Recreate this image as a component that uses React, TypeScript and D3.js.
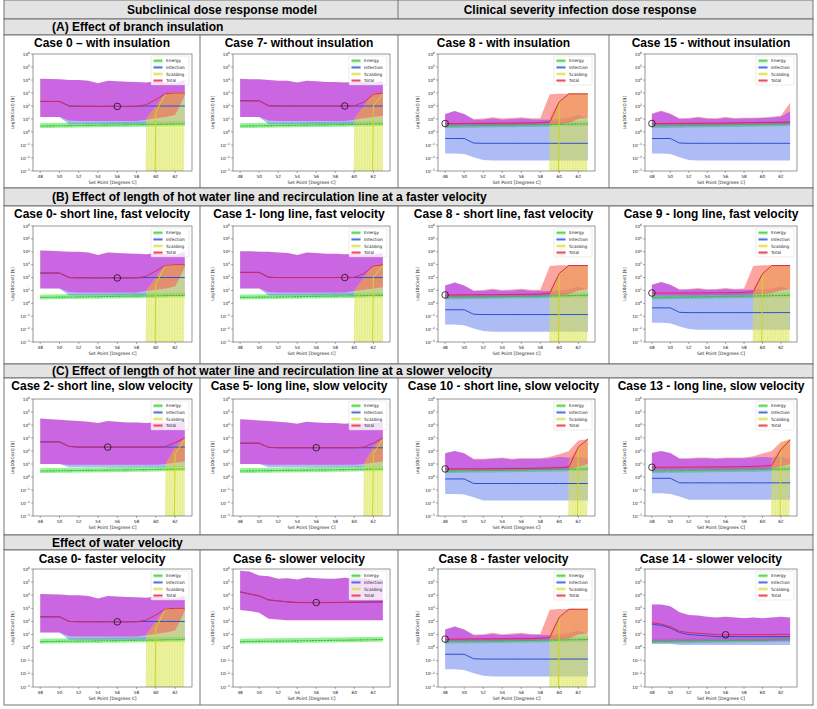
import React from 'react';
import * as d3 from 'd3';

// ---------- DATA (log10 exponents of cost in $) ----------
const N = -60; // effectively zero cost
const SET_POINTS = [48, 49, 50, 51, 52, 53, 54, 55, 56, 57, 58, 59, 60, 61, 62, 63];
const X_TICKS = [48, 50, 52, 54, 56, 58, 60, 62];
const Y_TICK_EXPONENTS = [-3, -2, -1, 0, 1, 2, 3, 4, 5, 6];
const LEGEND_LABELS = ['Energy', 'Infection', 'Scalding', 'Total'];

const energyMid = [0.46, 0.47, 0.48, 0.49, 0.5, 0.51, 0.52, 0.53, 0.54, 0.55, 0.56, 0.57, 0.58, 0.6, 0.61, 0.62];
const energyLo = [0.3, 0.31, 0.32, 0.33, 0.34, 0.35, 0.36, 0.37, 0.38, 0.39, 0.4, 0.41, 0.42, 0.44, 0.45, 0.46];
const energyHi = [0.68, 0.69, 0.7, 0.71, 0.72, 0.73, 0.74, 0.75, 0.76, 0.77, 0.78, 0.79, 0.8, 0.81, 0.82, 0.83];
const noScalding = [N, N, N, N, N, N, N, N, N, N, N, N, N, N, N, N];

// Case 0 (subclinical)
const c0TotMid = [2.35, 2.35, 2.35, 2.0, 1.98, 1.98, 1.97, 1.98, 1.97, 1.97, 1.98, 2.1, 2.5, 2.95, 3.0, 3.0];
const c0TotLo = [1.15, 1.15, 1.15, 0.88, 0.85, 0.85, 0.85, 0.85, 0.85, 0.85, 0.85, 0.95, 1.05, 1.15, 1.3, 2.8];
const c0TotHi = [4.1, 4.08, 4.05, 4.0, 4.0, 3.95, 3.75, 3.95, 3.9, 3.87, 3.85, 3.8, 3.9, 3.8, 3.75, 4.0];
const c0InfMid = [2.35, 2.35, 2.35, 2.0, 1.98, 1.98, 1.97, 1.98, 1.97, 1.97, 1.98, 2.0, 2.0, 2.0, 2.0, 2.0];
const c0InfLo = [1.15, 1.15, 1.15, 0.6, 0.6, 0.6, 0.6, 0.6, 0.6, 0.6, 0.6, 0.6, 0.6, 0.6, 0.6, 0.6];
const c0InfHi = [4.1, 4.08, 4.05, 4.0, 4.0, 3.95, 3.75, 3.95, 3.9, 3.87, 3.85, 3.8, 3.9, 3.8, 3.75, 4.0];
const c0ScalMid = [N, N, N, N, N, N, N, N, N, N, N, N, 1.5, 2.95, 3.0, 3.0];
const c0ScalLo = [N, N, N, N, N, N, N, N, N, N, N, N, N, N, N, 2.9];
const c0ScalHi = [N, N, N, N, N, N, N, N, N, N, N, 1.0, 2.0, 3.0, 3.0, 3.0];

// Case 7 (subclinical)
const c7TotMid = [2.4, 2.4, 2.4, 2.02, 2.0, 2.0, 2.0, 2.0, 2.0, 2.0, 2.0, 2.0, 2.02, 2.3, 2.9, 3.0];
const c7TotLo = [1.15, 1.15, 1.15, 0.88, 0.85, 0.85, 0.85, 0.85, 0.85, 0.85, 0.85, 0.85, 0.95, 1.05, 1.15, 1.25];
const c7TotHi = [4.1, 4.05, 4.05, 4.0, 3.95, 3.95, 3.8, 3.95, 3.9, 3.85, 3.85, 3.8, 3.85, 3.85, 3.8, 3.9];
const c7InfMid = [2.4, 2.4, 2.4, 2.02, 2.0, 2.0, 2.0, 2.0, 2.0, 2.0, 2.0, 2.0, 2.0, 2.0, 2.0, 2.0];
const c7InfLo = [1.15, 1.15, 1.15, 0.6, 0.6, 0.6, 0.6, 0.6, 0.6, 0.6, 0.6, 0.6, 0.6, 0.6, 0.6, 0.6];
const c7InfHi = [4.1, 4.05, 4.05, 4.0, 3.95, 3.95, 3.8, 3.95, 3.9, 3.85, 3.85, 3.8, 3.85, 3.85, 3.8, 3.9];
const c7ScalMid = [N, N, N, N, N, N, N, N, N, N, N, N, N, N, 2.0, 2.95];
const c7ScalHi = [N, N, N, N, N, N, N, N, N, N, N, N, 1.0, 2.0, 3.0, 3.0];

// Case 1 (subclinical)
const c1TotMid = [2.4, 2.4, 2.4, 2.02, 2.0, 2.0, 2.0, 2.0, 2.0, 2.0, 2.0, 2.0, 2.02, 2.3, 2.9, 3.0];
const c1TotLo = [1.15, 1.15, 1.15, 0.88, 0.85, 0.85, 0.85, 0.85, 0.85, 0.85, 0.85, 0.85, 0.95, 1.05, 1.15, 1.25];
const c1TotHi = [4.05, 4.05, 4.0, 4.0, 3.95, 3.9, 3.75, 3.95, 3.9, 3.85, 3.85, 3.8, 3.85, 3.8, 3.8, 3.9];
const c1InfMid = [2.4, 2.4, 2.4, 2.02, 2.0, 2.0, 2.0, 2.0, 2.0, 2.0, 2.0, 2.0, 2.0, 2.0, 2.0, 2.0];
const c1InfLo = [1.15, 1.15, 1.15, 0.6, 0.6, 0.6, 0.6, 0.6, 0.6, 0.6, 0.6, 0.6, 0.6, 0.6, 0.6, 0.6];
const c1InfHi = [4.05, 4.05, 4.0, 4.0, 3.95, 3.9, 3.75, 3.95, 3.9, 3.85, 3.85, 3.8, 3.85, 3.8, 3.8, 3.9];

// Case 2 (subclinical)
const c2TotMid = [2.7, 2.7, 2.7, 2.35, 2.3, 2.3, 2.3, 2.3, 2.3, 2.3, 2.3, 2.3, 2.3, 2.35, 2.65, 3.0];
const c2TotLo = [1.0, 1.0, 1.0, 0.95, 0.95, 0.95, 0.95, 0.95, 0.95, 0.95, 0.95, 0.95, 0.95, 1.0, 1.1, 1.2];
const c2TotHi = [4.5, 4.45, 4.4, 4.35, 4.3, 4.25, 4.15, 4.3, 4.25, 4.2, 4.2, 4.15, 4.2, 4.15, 4.2, 4.3];
const c2InfMid = [2.7, 2.7, 2.7, 2.35, 2.3, 2.3, 2.3, 2.3, 2.3, 2.3, 2.3, 2.3, 2.3, 2.3, 2.3, 2.3];
const c2InfLo = [1.0, 1.0, 1.0, 0.75, 0.75, 0.75, 0.75, 0.75, 0.75, 0.75, 0.75, 0.75, 0.75, 0.75, 0.75, 0.75];
const c2InfHi = [4.5, 4.45, 4.4, 4.35, 4.3, 4.25, 4.15, 4.3, 4.25, 4.2, 4.2, 4.15, 4.2, 4.15, 4.2, 4.3];
const c2ScalMid = [N, N, N, N, N, N, N, N, N, N, N, N, N, N, 1.8, 2.9];
const c2ScalHi = [N, N, N, N, N, N, N, N, N, N, N, N, N, 1.0, 2.3, 3.0];

// Case 5 (subclinical)
const c5TotMid = [2.6, 2.6, 2.6, 2.28, 2.25, 2.25, 2.25, 2.25, 2.25, 2.25, 2.25, 2.25, 2.25, 2.3, 2.6, 3.0];
const c5TotLo = [1.0, 1.0, 1.0, 0.95, 0.95, 0.95, 0.95, 0.95, 0.95, 0.95, 0.95, 0.95, 0.95, 1.0, 1.1, 1.2];
const c5TotHi = [4.45, 4.4, 4.35, 4.3, 4.25, 4.2, 4.1, 4.25, 4.2, 4.15, 4.15, 4.1, 4.15, 4.1, 4.15, 4.25];
const c5InfMid = [2.6, 2.6, 2.6, 2.28, 2.25, 2.25, 2.25, 2.25, 2.25, 2.25, 2.25, 2.25, 2.25, 2.25, 2.25, 2.25];
const c5InfLo = [1.0, 1.0, 1.0, 0.75, 0.75, 0.75, 0.75, 0.75, 0.75, 0.75, 0.75, 0.75, 0.75, 0.75, 0.75, 0.75];
const c5InfHi = [4.45, 4.4, 4.35, 4.3, 4.25, 4.2, 4.1, 4.25, 4.2, 4.15, 4.15, 4.1, 4.15, 4.1, 4.15, 4.25];

// Case 6 (subclinical)
const c6TotMid = [4.26, 4.1, 3.95, 3.65, 3.57, 3.5, 3.45, 3.45, 3.44, 3.45, 3.45, 3.46, 3.47, 3.48, 3.49, 3.5];
const c6TotLo = [2.88, 2.8, 2.67, 2.2, 2.15, 2.1, 2.1, 2.1, 2.1, 2.1, 2.1, 2.1, 2.1, 2.1, 2.1, 2.1];
const c6TotHi = [5.87, 5.8, 5.5, 5.45, 5.25, 5.3, 5.2, 5.35, 5.3, 5.25, 5.25, 5.33, 5.25, 5.3, 5.2, 5.25];
const c6InfMid = [4.25, 4.09, 3.94, 3.64, 3.56, 3.49, 3.44, 3.44, 3.43, 3.44, 3.44, 3.45, 3.46, 3.47, 3.48, 3.49];
const c6InfLo = [2.88, 2.8, 2.67, 2.2, 2.15, 2.1, 2.1, 2.1, 2.1, 2.1, 2.1, 2.1, 2.1, 2.1, 2.1, 2.1];
const c6InfHi = [5.87, 5.8, 5.5, 5.45, 5.25, 5.3, 5.2, 5.35, 5.3, 5.25, 5.25, 5.33, 5.25, 5.3, 5.2, 5.25];

// Case 8 (clinical)
const c8TotMid = [0.65, 0.65, 0.66, 0.66, 0.67, 0.67, 0.68, 0.68, 0.69, 0.7, 0.72, 0.78, 2.33, 2.93, 2.93, 2.93];
const c8TotLo = [0.5, 0.5, 0.5, 0.5, 0.5, 0.5, 0.52, 0.52, 0.53, 0.53, 0.55, 0.6, 0.6, 0.7, 1.0, 1.1];
const c8TotHi = [1.38, 1.62, 1.38, 1.0, 1.03, 1.13, 1.03, 1.08, 1.13, 1.05, 1.05, 2.9, 2.95, 2.95, 2.95, 2.95];
const c8InfMid = [-0.5, -0.5, -0.5, -0.85, -0.87, -0.87, -0.87, -0.87, -0.87, -0.87, -0.87, -0.87, -0.87, -0.87, -0.87, -0.87];
const c8InfLo = [-1.65, -1.65, -1.7, -1.95, -2.15, -2.2, -2.2, -2.2, -2.2, -2.2, -2.2, -2.2, -2.2, -2.2, -2.2, -2.2];
const c8InfHi = [1.38, 1.62, 1.38, 0.95, 0.97, 1.05, 0.97, 1.0, 1.05, 0.98, 0.97, 0.97, 1.0, 1.1, 1.3, 1.05];
const c8ScalMid = [N, N, N, N, N, N, N, N, N, N, N, N, 2.3, 2.93, 2.93, 2.93];
const c8ScalLo = [N, N, N, N, N, N, N, N, N, N, N, N, N, N, N, 2.0];
const c8ScalHi = [N, N, N, N, N, N, N, N, N, N, N, 1.2, 2.4, 2.95, 2.95, 2.95];

// Case 15 (clinical)
const c15TotMid = [0.65, 0.65, 0.66, 0.66, 0.67, 0.67, 0.68, 0.68, 0.69, 0.7, 0.71, 0.72, 0.73, 0.74, 0.75, 0.77];
const c15TotLo = [0.5, 0.5, 0.5, 0.5, 0.5, 0.5, 0.52, 0.52, 0.53, 0.53, 0.55, 0.55, 0.56, 0.57, 0.58, 0.6];
const c15TotHi = [1.42, 1.65, 1.42, 1.05, 1.08, 1.18, 1.08, 1.06, 1.15, 1.08, 1.1, 1.1, 1.12, 1.18, 1.25, 2.25];
const c15InfHi = [1.38, 1.6, 1.38, 1.0, 1.02, 1.12, 1.02, 1.0, 1.1, 1.02, 1.05, 1.05, 1.07, 1.12, 1.2, 1.6];

// Case 9 (clinical)
const c9TotMid = [0.8, 0.8, 0.8, 0.8, 0.8, 0.81, 0.81, 0.82, 0.82, 0.83, 0.85, 0.9, 2.3, 2.93, 2.93, 2.93];
const c9TotLo = [0.6, 0.6, 0.6, 0.6, 0.6, 0.6, 0.62, 0.62, 0.63, 0.63, 0.65, 0.7, 0.7, 0.8, 1.0, 1.1];
const c9TotHi = [1.45, 1.65, 1.45, 1.1, 1.12, 1.18, 1.1, 1.12, 1.18, 1.12, 1.15, 2.9, 2.95, 2.95, 2.95, 2.95];
const c9InfMid = [-0.35, -0.35, -0.35, -0.7, -0.72, -0.72, -0.72, -0.72, -0.72, -0.72, -0.72, -0.72, -0.72, -0.72, -0.72, -0.72];
const c9InfLo = [-1.5, -1.5, -1.55, -1.8, -2.0, -2.05, -2.05, -2.05, -2.05, -2.05, -2.05, -2.05, -2.05, -2.05, -2.05, -2.05];
const c9InfHi = [1.45, 1.65, 1.45, 1.05, 1.07, 1.12, 1.05, 1.07, 1.12, 1.07, 1.08, 1.08, 1.1, 1.15, 1.3, 1.1];

// Case 10 (clinical)
const c10TotMid = [0.62, 0.62, 0.63, 0.63, 0.63, 0.64, 0.64, 0.65, 0.65, 0.66, 0.67, 0.7, 0.72, 0.77, 2.3, 2.92];
const c10TotLo = [0.5, 0.5, 0.5, 0.5, 0.5, 0.5, 0.5, 0.52, 0.52, 0.53, 0.53, 0.55, 0.55, 0.6, 0.8, 1.0];
const c10TotHi = [1.82, 2.0, 1.82, 1.4, 1.4, 1.45, 1.5, 1.4, 1.45, 1.45, 1.45, 1.55, 1.75, 2.0, 2.8, 2.9];
const c10InfMid = [-0.15, -0.15, -0.15, -0.5, -0.5, -0.5, -0.5, -0.5, -0.5, -0.5, -0.5, -0.5, -0.5, -0.5, -0.5, -0.5];
const c10InfLo = [-1.3, -1.3, -1.35, -1.55, -1.8, -1.8, -1.8, -1.8, -1.8, -1.8, -1.8, -1.8, -1.8, -1.8, -1.8, -1.8];
const c10InfHi = [1.82, 2.0, 1.82, 1.35, 1.35, 1.4, 1.45, 1.35, 1.4, 1.4, 1.4, 1.45, 1.55, 1.5, 1.55, 1.4];
const c10ScalMid = [N, N, N, N, N, N, N, N, N, N, N, N, N, N, 2.3, 2.92];
const c10ScalLo = [N, N, N, N, N, N, N, N, N, N, N, N, N, N, N, 1.0];
const c10ScalHi = [N, N, N, N, N, N, N, N, N, N, N, N, N, 1.3, 2.4, 2.95];

// Case 13 (clinical)
const c13TotMid = [0.75, 0.75, 0.75, 0.76, 0.76, 0.77, 0.77, 0.78, 0.78, 0.79, 0.8, 0.82, 0.85, 0.9, 2.1, 2.85];
const c13TotLo = [0.55, 0.55, 0.55, 0.55, 0.55, 0.55, 0.56, 0.56, 0.57, 0.57, 0.58, 0.6, 0.6, 0.65, 0.8, 1.0];
const c13TotHi = [1.85, 2.0, 1.85, 1.45, 1.45, 1.5, 1.5, 1.45, 1.5, 1.5, 1.5, 1.6, 1.8, 2.0, 2.7, 2.9];
const c13InfMid = [-0.1, -0.1, -0.1, -0.45, -0.45, -0.45, -0.45, -0.45, -0.45, -0.45, -0.45, -0.45, -0.45, -0.45, -0.45, -0.45];
const c13InfLo = [-1.25, -1.25, -1.3, -1.5, -1.75, -1.75, -1.75, -1.75, -1.75, -1.75, -1.75, -1.75, -1.75, -1.75, -1.75, -1.75];
const c13InfHi = [1.85, 2.0, 1.85, 1.4, 1.4, 1.45, 1.45, 1.4, 1.45, 1.45, 1.45, 1.5, 1.55, 1.5, 1.55, 1.4];

// Case 14 (clinical)
const c14TotMid = [1.9, 1.8, 1.6, 1.25, 1.15, 1.1, 1.05, 1.0, 0.98, 1.0, 1.0, 1.0, 1.0, 1.0, 1.02, 1.02];
const c14TotLo = [0.5, 0.5, 0.5, 0.5, 0.5, 0.5, 0.5, 0.5, 0.5, 0.5, 0.5, 0.5, 0.5, 0.52, 0.52, 0.55];
const c14TotHi = [3.3, 3.3, 3.15, 2.7, 2.5, 2.45, 2.35, 2.3, 2.35, 2.3, 2.25, 2.3, 2.25, 2.3, 2.35, 2.3];
const c14InfMid = [1.8, 1.7, 1.5, 1.15, 1.0, 0.95, 0.9, 0.85, 0.85, 0.85, 0.85, 0.85, 0.85, 0.85, 0.85, 0.85];
const c14InfLo = [0.3, 0.3, 0.3, 0.2, 0.2, 0.2, 0.2, 0.2, 0.2, 0.2, 0.2, 0.2, 0.2, 0.2, 0.2, 0.2];
const c14InfHi = [3.3, 3.3, 3.15, 2.7, 2.5, 2.45, 2.35, 2.3, 2.35, 2.3, 2.25, 2.3, 2.25, 2.3, 2.35, 2.3];

const CASES: Record<string, any> = {
  c0: { tot: [c0TotMid, c0TotLo, c0TotHi], inf: [c0InfMid, c0InfLo, c0InfHi], scal: [c0ScalMid, c0ScalLo, c0ScalHi], best: 56 },
  c7: { tot: [c7TotMid, c7TotLo, c7TotHi], inf: [c7InfMid, c7InfLo, c7InfHi], scal: [c7ScalMid, noScalding, c7ScalHi], best: 59 },
  c1: { tot: [c1TotMid, c1TotLo, c1TotHi], inf: [c1InfMid, c1InfLo, c1InfHi], scal: [c7ScalMid, noScalding, c7ScalHi], best: 59 },
  c2: { tot: [c2TotMid, c2TotLo, c2TotHi], inf: [c2InfMid, c2InfLo, c2InfHi], scal: [c2ScalMid, noScalding, c2ScalHi], best: 55 },
  c5: { tot: [c5TotMid, c5TotLo, c5TotHi], inf: [c5InfMid, c5InfLo, c5InfHi], scal: [c2ScalMid, noScalding, c2ScalHi], best: 56 },
  c6: { tot: [c6TotMid, c6TotLo, c6TotHi], inf: [c6InfMid, c6InfLo, c6InfHi], scal: [noScalding, noScalding, noScalding], best: 56 },
  c8: { tot: [c8TotMid, c8TotLo, c8TotHi], inf: [c8InfMid, c8InfLo, c8InfHi], scal: [c8ScalMid, c8ScalLo, c8ScalHi], best: 48 },
  c15: { tot: [c15TotMid, c15TotLo, c15TotHi], inf: [c8InfMid, c8InfLo, c15InfHi], scal: [noScalding, noScalding, noScalding], best: 48 },
  c9: { tot: [c9TotMid, c9TotLo, c9TotHi], inf: [c9InfMid, c9InfLo, c9InfHi], scal: [c8ScalMid, c8ScalLo, c8ScalHi], best: 48 },
  c10: { tot: [c10TotMid, c10TotLo, c10TotHi], inf: [c10InfMid, c10InfLo, c10InfHi], scal: [c10ScalMid, c10ScalLo, c10ScalHi], best: 48 },
  c13: { tot: [c13TotMid, c13TotLo, c13TotHi], inf: [c13InfMid, c13InfLo, c13InfHi], scal: [c10ScalMid, c10ScalLo, c10ScalHi], best: 48 },
  c14: { tot: [c14TotMid, c14TotLo, c14TotHi], inf: [c14InfMid, c14InfLo, c14InfHi], scal: [noScalding, noScalding, noScalding], best: 56 },
};

const COLUMN_HEADERS = ['Subclinical dose response model', 'Clinical severity infection dose response'];
const SECTION_HEADERS = [
  '(A) Effect of branch insulation',
  '(B) Effect of length of hot water line and recirculation line at a faster velocity',
  '(C) Effect of length of hot water line and recirculation line at a slower velocity',
  'Effect of water velocity',
];
const GRID_CASES = [
  ['c0', 'c7', 'c8', 'c15'],
  ['c0', 'c1', 'c8', 'c9'],
  ['c2', 'c5', 'c10', 'c13'],
  ['c0', 'c6', 'c8', 'c14'],
];
const GRID_TITLES = [
  ['Case 0 \u2013 with insulation', 'Case 7- without insulation', 'Case 8 - with insulation', 'Case 15 - without insulation'],
  ['Case 0- short line, fast velocity', 'Case 1- long line, fast velocity', 'Case 8 - short line, fast velocity', 'Case 9 - long line, fast velocity'],
  ['Case 2- short line, slow velocity', 'Case 5- long line, slow velocity', 'Case 10 - short line, slow velocity', 'Case 13 - long line, slow velocity'],
  ['Case 0- faster velocity', 'Case 6- slower velocity', 'Case 8 - faster velocity', 'Case 14 - slower velocity'],
];

// ---------- LAYOUT ----------
const W = 817;
const H = 709;
const LEFT = 4;
const RIGHT = 813;
const COLS = [
  { x0: 4, x1: 200, ax0: 33, ax1: 192 },
  { x0: 200, x1: 398, ax0: 233, ax1: 390 },
  { x0: 398, x1: 609, ax0: 438, ax1: 595 },
  { x0: 609, x1: 813, ax0: 645, ax1: 797 },
];
const ROWS = [
  { hy0: 19, hy1: 35, py1: 188, titleY: 47, top: 54, bottom: 171 },
  { hy0: 188, hy1: 206, py1: 364, titleY: 218, top: 226, bottom: 342 },
  { hy0: 364, hy1: 378, py1: 535, titleY: 390, top: 399, bottom: 516 },
  { hy0: 535, hy1: 550, py1: 705, titleY: 563, top: 569, bottom: 687 },
];

const COLORS = {
  energyLine: '#2fc22f',
  energyBand: 'rgba(70,225,70,0.55)',
  infLine: '#2b50d0',
  infBand: 'rgba(85,115,235,0.48)',
  scalLine: '#c9d92a',
  scalBand: 'rgba(222,232,70,0.5)',
  totLine: '#e0265a',
  totBandIn: 'rgba(222,45,215,0.6)',
  totBandOut: 'rgba(250,90,80,0.55)',
  header: '#e3e3e3',
  border: '#666',
};

const PLOT_FONT = '"DejaVu Sans", sans-serif';
const HEAD_FONT = '"Liberation Sans", Arial, sans-serif';
const BIG = { x: -2000, y: -2000, w: 6000, h: 8000 };

function Panel({ caseKey, col, row, uid }: any) {
  const c = CASES[caseKey];
  const C = COLS[col];
  const R = ROWS[row];
  const xs = d3.scaleLinear().domain([47.25, 63.75]).range([C.ax0, C.ax1]);
  const ys = d3.scaleLog().domain([1e-3, 1e6]).range([R.bottom, R.top]);
  const yv = (e: number) => ys(Math.pow(10, e));
  const area = (lo: number[], hi: number[]) =>
    d3.area<number>().x((d) => xs(d)).y0((_, i) => yv(lo[i])).y1((_, i) => yv(hi[i]))(SET_POINTS) || '';
  const line = (m: number[]) => d3.line<number>().x((d) => xs(d)).y((_, i) => yv(m[i]))(SET_POINTS) || '';

  const [tMid, tLo, tHi] = c.tot;
  const [iMid, iLo, iHi] = c.inf;
  const [sMid, sLo, sHi] = c.scal;
  const infArea = area(iLo, iHi);
  const totArea = area(tLo, tHi);
  const scalArea = area(sLo, sHi);
  const clip = `clip-${uid}`;
  const infClip = `infclip-${uid}`;
  const scalClip = `scalclip-${uid}`;
  const maskNoScal = `mns-${uid}`;
  const maskOut = `mout-${uid}`;
  const bi = SET_POINTS.indexOf(c.best);

  const lx = C.ax1 - 41;
  const ly = R.top + 2;
  const legendItems = [
    { label: LEGEND_LABELS[0], band: COLORS.energyBand, line: COLORS.energyLine },
    { label: LEGEND_LABELS[1], band: COLORS.infBand, line: COLORS.infLine },
    { label: LEGEND_LABELS[2], band: COLORS.scalBand, line: COLORS.scalLine },
    { label: LEGEND_LABELS[3], band: COLORS.totBandOut, line: COLORS.totLine },
  ];
  const cx = (C.ax0 + C.ax1) / 2;
  const cy = (R.top + R.bottom) / 2;

  return (
    <g>
      <defs>
        <clipPath id={clip}>
          <rect x={C.ax0} y={R.top} width={C.ax1 - C.ax0} height={R.bottom - R.top} />
        </clipPath>
        <clipPath id={infClip}>
          <path d={infArea} />
        </clipPath>
        <clipPath id={scalClip}>
          <path d={scalArea} />
        </clipPath>
        <mask id={maskNoScal} maskUnits="userSpaceOnUse" x={BIG.x} y={BIG.y} width={BIG.w} height={BIG.h}>
          <rect x={BIG.x} y={BIG.y} width={BIG.w} height={BIG.h} fill="white" />
          <path d={scalArea} fill="black" />
        </mask>
        <mask id={maskOut} maskUnits="userSpaceOnUse" x={BIG.x} y={BIG.y} width={BIG.w} height={BIG.h}>
          <rect x={BIG.x} y={BIG.y} width={BIG.w} height={BIG.h} fill="white" />
          <path d={infArea} fill="black" />
          <path d={scalArea} fill="black" />
        </mask>
      </defs>
      <text x={(C.x0 + C.x1) / 2} y={R.titleY} textAnchor="middle" fontFamily={HEAD_FONT} fontWeight="bold" fontSize={12}>
        {GRID_TITLES[row][col]}
      </text>
      <rect x={C.ax0} y={R.top} width={C.ax1 - C.ax0} height={R.bottom - R.top} fill="white" />
      <g clipPath={`url(#${clip})`}>
        <path d={area(energyLo, energyHi)} fill={COLORS.energyBand} />
        <path d={infArea} fill={COLORS.infBand} />
        <path d={scalArea} fill={COLORS.scalBand} />
        <path d={scalArea} fill="url(#hatch)" />
        <g clipPath={`url(#${infClip})`}>
          <path d={totArea} fill={COLORS.totBandIn} mask={`url(#${maskNoScal})`} />
        </g>
        <g clipPath={`url(#${scalClip})`}>
          <path d={totArea} fill={COLORS.totBandOut} />
        </g>
        <path d={totArea} fill={COLORS.totBandOut} mask={`url(#${maskOut})`} />
        <path d={line(energyMid)} fill="none" stroke={COLORS.energyLine} strokeWidth={1.1} strokeDasharray="2.2,0.8" />
        <path d={line(iMid)} fill="none" stroke={COLORS.infLine} strokeWidth={1} />
        <path d={line(sMid)} fill="none" stroke={COLORS.scalLine} strokeWidth={1} />
        <path d={line(tMid)} fill="none" stroke={COLORS.totLine} strokeWidth={1} />
      </g>
      <circle cx={xs(c.best)} cy={yv(tMid[bi])} r={3.3} fill="none" stroke="#111" strokeWidth={0.8} />
      <rect x={C.ax0} y={R.top} width={C.ax1 - C.ax0} height={R.bottom - R.top} fill="none" stroke="#333" strokeWidth={0.5} />
      {/* legend */}
      <rect x={lx} y={ly} width={38} height={29} rx={1} fill="rgba(255,255,255,0.8)" stroke="#d0d0d0" strokeWidth={0.4} />
      {legendItems.map((it, k) => (
        <g key={k}>
          <rect x={lx + 2.5} y={ly + 3.2 + k * 6.6} width={9} height={3.2} fill={it.band} />
          <line x1={lx + 2.5} x2={lx + 11.5} y1={ly + 4.8 + k * 6.6} y2={ly + 4.8 + k * 6.6} stroke={it.line} strokeWidth={0.8} />
          <text x={lx + 15} y={ly + 6.3 + k * 6.6} fontFamily={PLOT_FONT} fontSize={4.3} fill="#222">
            {it.label}
          </text>
        </g>
      ))}
      {/* y axis */}
      {Y_TICK_EXPONENTS.map((e) => (
        <g key={e}>
          <line x1={C.ax0 - 2} x2={C.ax0} y1={yv(e)} y2={yv(e)} stroke="#333" strokeWidth={0.4} />
          <text x={C.ax0 - 3} y={yv(e) + 1.6} textAnchor="end" fontFamily={PLOT_FONT} fontSize={4.2} fill="#222">
            10
            <tspan dy={-1.8} fontSize={3}>
              {e < 0 ? `\u2212${-e}` : `${e}`}
            </tspan>
          </text>
        </g>
      ))}
      <text
        transform={`translate(${C.ax0 - 19},${cy}) rotate(-90)`}
        textAnchor="middle"
        fontFamily={PLOT_FONT}
        fontSize={4.3}
        fill="#222"
      >
        Log10(Cost) [$]
      </text>
      {/* x axis */}
      {X_TICKS.map((t) => (
        <g key={t}>
          <line x1={xs(t)} x2={xs(t)} y1={R.bottom} y2={R.bottom + 2} stroke="#333" strokeWidth={0.4} />
          <text x={xs(t)} y={R.bottom + 7} textAnchor="middle" fontFamily={PLOT_FONT} fontSize={4.3} fill="#222">
            {t}
          </text>
        </g>
      ))}
      <text x={cx} y={R.bottom + 13} textAnchor="middle" fontFamily={PLOT_FONT} fontSize={4.5} fill="#222">
        Set Point [Degrees C]
      </text>
    </g>
  );
}

export default function App() {
  return (
    <svg
      width={W}
      height={H}
      style={{ position: 'absolute', left: 0, top: 0, background: 'white' }}
      viewBox={`0 0 ${W} ${H}`}
    >
      <defs>
        <pattern id="hatch" width={2.6} height={4} patternUnits="userSpaceOnUse">
          <line x1={0.6} y1={0} x2={0.6} y2={4} stroke="rgba(175,195,30,0.55)" strokeWidth={0.6} strokeDasharray="1.2,0.8" />
        </pattern>
      </defs>
      <rect x={0} y={0} width={W} height={H} fill="white" />
      {/* top column header */}
      <rect x={LEFT} y={0} width={RIGHT - LEFT} height={19} fill={COLORS.header} stroke={COLORS.border} strokeWidth={0.9} />
      <line x1={398} x2={398} y1={0} y2={19} stroke={COLORS.border} strokeWidth={0.9} />
      <text x={222} y={14} textAnchor="middle" fontFamily={HEAD_FONT} fontWeight="bold" fontSize={12}>
        {COLUMN_HEADERS[0]}
      </text>
      <text x={580} y={14} textAnchor="middle" fontFamily={HEAD_FONT} fontWeight="bold" fontSize={12}>
        {COLUMN_HEADERS[1]}
      </text>
      {ROWS.map((r, ri) => (
        <g key={ri}>
          <rect x={LEFT} y={r.hy0} width={RIGHT - LEFT} height={r.hy1 - r.hy0} fill={COLORS.header} stroke={COLORS.border} strokeWidth={0.9} />
          <text x={52} y={(r.hy0 + r.hy1) / 2 + 4.3} fontFamily={HEAD_FONT} fontWeight="bold" fontSize={12}>
            {SECTION_HEADERS[ri]}
          </text>
          <rect x={LEFT} y={r.hy1} width={RIGHT - LEFT} height={r.py1 - r.hy1} fill="white" stroke={COLORS.border} strokeWidth={0.9} />
          {[200, 398, 609].map((vx) => (
            <line key={vx} x1={vx} x2={vx} y1={r.hy1} y2={r.py1} stroke={COLORS.border} strokeWidth={0.9} />
          ))}
          {GRID_CASES[ri].map((ck, ci) => (
            <Panel key={ci} caseKey={ck} col={ci} row={ri} uid={`${ri}-${ci}`} />
          ))}
        </g>
      ))}
    </svg>
  );
}
